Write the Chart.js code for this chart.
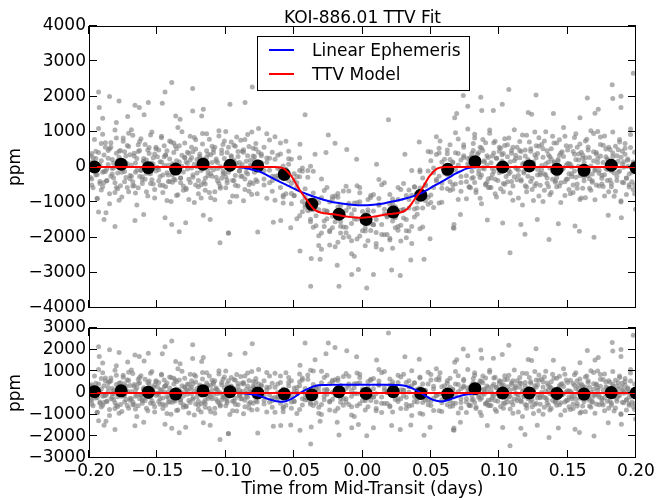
<!DOCTYPE html>
<html><head><meta charset="utf-8">
<script src="https://cdn.jsdelivr.net/npm/chart.js@4/dist/chart.umd.min.js"></script>
<style>
html,body{margin:0;padding:0;background:#fff;}
#wrap{position:relative;width:666px;height:500px;overflow:hidden;background:#fff;}
canvas{position:absolute;left:0;}
</style>
</head><body>
<div id="wrap">
<canvas id="topc" width="666" height="322" style="top:0;width:666px;height:322px"></canvas>
<canvas id="botc" width="666" height="188" style="top:312px;width:666px;height:188px"></canvas>
</div>
<script>
// ---------- text ----------
const chartTitle = 'KOI-886.01 TTV Fit';
const xTitle = 'Time from Mid-Transit (days)';
const yTitle = 'ppm';
const legendLabels = ['Linear Ephemeris', 'TTV Model'];

// ---------- ticks ----------
const xTicks = [-0.20, -0.15, -0.10, -0.05, 0.00, 0.05, 0.10, 0.15, 0.20];
const xTickLabels = ['\u22120.20', '\u22120.15', '\u22120.10', '\u22120.05', '0.00', '0.05', '0.10', '0.15', '0.20'];
const topYTicks = [-4000, -3000, -2000, -1000, 0, 1000, 2000, 3000, 4000];
const topYLabels = ['\u22124000', '\u22123000', '\u22122000', '\u22121000', '0', '1000', '2000', '3000', '4000'];
const botYTicks = [-3000, -2000, -1000, 0, 1000, 2000, 3000];
const botYLabels = ['\u22123000', '\u22122000', '\u22121000', '0', '1000', '2000', '3000'];

// ---------- models (top panel) ----------
const blueX = [-0.095,-0.092,-0.088,-0.084,-0.080,-0.076,-0.072,-0.068,-0.064,-0.060,-0.056,-0.052,-0.048,-0.044,-0.040,-0.036,-0.032,-0.028,-0.024,-0.020,-0.014,-0.008,0,0.008,0.014,0.020,0.024,0.028,0.032,0.036,0.040,0.044,0.048,0.052,0.056,0.060,0.064,0.068,0.072,0.076,0.080,0.085,0.088];
const blueY = [0,0,-15,-45,-80,-115,-190,-270,-350,-430,-500,-580,-655,-720,-780,-835,-885,-935,-975,-1010,-1045,-1070,-1085,-1070,-1045,-995,-965,-930,-885,-840,-790,-725,-635,-545,-460,-370,-280,-190,-115,-45,-15,0,0];
const redX = [-0.2,-0.064,-0.060,-0.058,-0.056,-0.054,-0.052,-0.050,-0.048,-0.046,-0.044,-0.042,-0.040,-0.038,-0.036,-0.034,-0.032,-0.030,-0.025,-0.020,-0.015,-0.010,-0.005,-0.0015,0.002,0.007,0.012,0.017,0.022,0.027,0.029,0.031,0.033,0.035,0.037,0.039,0.041,0.043,0.045,0.047,0.049,0.051,0.053,0.055,0.057,0.061,0.2];
const redY = [0,0,-15,-40,-90,-170,-260,-380,-520,-650,-760,-870,-980,-1090,-1180,-1240,-1275,-1295,-1325,-1350,-1385,-1415,-1433,-1440,-1433,-1415,-1385,-1350,-1325,-1295,-1275,-1240,-1180,-1090,-980,-870,-760,-650,-520,-380,-260,-170,-90,-40,-15,0,0];

// ---------- residual models (bottom panel) ----------
const resBlueX = [-0.095,-0.09,-0.085,-0.08,-0.075,-0.071,-0.067,-0.063,-0.06,-0.057,-0.054,-0.05,-0.046,-0.042,-0.038,-0.034,-0.03,-0.025,-0.015,0,0.015,0.025,0.03,0.034,0.038,0.042,0.046,0.05,0.054,0.058,0.062,0.066,0.07,0.075,0.08,0.085,0.09];
const resBlueY = [0,0,-20,-70,-140,-230,-310,-380,-400,-390,-330,-200,-20,130,250,330,365,375,380,380,380,370,350,280,170,30,-130,-270,-360,-390,-340,-250,-160,-80,-30,0,0];
const resRedX = [-0.2, 0.2];
const resRedY = [0, 0];

// ---------- binned points ----------
const binX = [-0.196,-0.1765,-0.1566,-0.1366,-0.1166,-0.0969,-0.0766,-0.0572,-0.0371,-0.0172,0.0026,0.0225,0.0426,0.0623,0.0823,0.1025,0.1220,0.1422,0.1620,0.1819,0.2000];
const binTop = [0,80,-20,-60,80,50,30,-210,-1060,-1340,-1490,-1280,-800,-65,150,0,30,-65,-95,50,-20];
const binRes = [60,100,40,-50,100,60,0,-50,-80,60,-20,60,-20,-50,200,0,0,-20,-50,20,0];

// ---------- individual measurements, out of transit (same in both panels) ----------
const grayOutX = [
-0.199,-0.198,-0.197,-0.196,-0.195,-0.194,-0.193,-0.192,-0.191,-0.190,
-0.189,-0.188,-0.187,-0.186,-0.185,-0.184,-0.183,-0.182,-0.181,-0.180,
-0.179,-0.178,-0.177,-0.176,-0.175,-0.174,-0.173,-0.172,-0.171,-0.170,
-0.169,-0.168,-0.167,-0.166,-0.165,-0.164,-0.163,-0.162,-0.161,-0.160,
-0.159,-0.158,-0.157,-0.156,-0.155,-0.154,-0.153,-0.152,-0.151,-0.150,
-0.149,-0.148,-0.147,-0.146,-0.145,-0.144,-0.143,-0.142,-0.141,-0.140,
-0.139,-0.138,-0.137,-0.136,-0.135,-0.134,-0.133,-0.132,-0.131,-0.130,
-0.129,-0.128,-0.127,-0.126,-0.125,-0.124,-0.123,-0.122,-0.121,-0.120,
-0.119,-0.118,-0.117,-0.116,-0.115,-0.114,-0.113,-0.112,-0.111,-0.110,
-0.109,-0.108,-0.107,-0.106,-0.105,-0.104,-0.103,-0.102,-0.101,-0.100,
-0.099,-0.098,-0.097,-0.096,-0.095,-0.094,-0.093,-0.092,-0.091,-0.090,
-0.089,-0.088,-0.087,-0.086,-0.085,-0.084,-0.083,-0.082,-0.081,-0.080,
-0.079,-0.078,-0.077,-0.076,
0.076,0.077,0.078,0.079,
0.080,0.081,0.082,0.083,0.084,0.085,0.086,0.087,0.088,0.089,
0.090,0.091,0.092,0.093,0.094,0.095,0.096,0.097,0.098,0.099,
0.100,0.101,0.102,0.103,0.104,0.105,0.106,0.107,0.108,0.109,
0.110,0.111,0.112,0.113,0.114,0.115,0.116,0.117,0.118,0.119,
0.120,0.121,0.122,0.123,0.124,0.125,0.126,0.127,0.128,0.129,
0.130,0.131,0.132,0.133,0.134,0.135,0.136,0.137,0.138,0.139,
0.140,0.141,0.142,0.143,0.144,0.145,0.146,0.147,0.148,0.149,
0.150,0.151,0.152,0.153,0.154,0.155,0.156,0.157,0.158,0.159,
0.160,0.161,0.162,0.163,0.164,0.165,0.166,0.167,0.168,0.169,
0.170,0.171,0.172,0.173,0.174,0.175,0.176,0.177,0.178,0.179,
0.180,0.181,0.182,0.183,0.184,0.185,0.186,0.187,0.188,0.189,
0.190,0.191,0.192,0.193,0.194,0.195,0.196,0.197,0.198,0.199];
const grayOutY1 = [
320,-510,140,780,-230,-890,410,60,-650,930,
-120,560,-380,250,-760,690,-40,-310,1050,-580,
180,-940,470,-150,820,-420,30,610,-700,350,
-260,900,-530,110,-1080,440,720,-90,-360,240,
640,-180,-820,380,-470,990,70,-640,520,-20,
-390,150,870,-720,290,-560,460,-230,740,-980,
90,-340,600,-810,1120,-60,-450,330,-140,680,
-600,420,-920,200,560,-290,840,-510,10,-760,
370,-100,950,-430,-660,270,-250,790,-870,130,
500,-700,230,-40,880,-550,-320,640,-180,1010,
-450,80,-990,710,160,-380,590,-830,300,-110,
760,-260,420,-640,-20,920,-500,190,-780,530,
-150,670,-410,1090,-900,240,40,-590,380,-300,
820,-720,110,-200,560,-1040,470,-60,690,-440,
-330,960,-580,310,-130,730,-850,20,450,-620,
170,-470,800,-270,630,-90,-740,390,-540,1060,
-20,560,-880,260,-360,910,-170,480,-700,120,
710,-410,50,-950,340,600,-230,830,-520,-80,
280,-660,1000,-310,140,-790,520,-120,680,-430,
-560,210,770,-1010,430,-30,870,-350,100,-640,
590,-190,-720,360,940,-480,20,650,-880,250,
-280,740,-110,480,-600,1030,-390,170,-930,410,
130,-540,850,-240,620,-820,290,-70,560,-370,
-470,990,60,-690,320,-150,780,-960,450,-10,
670,-320,230,-570,1080,-420,140,-760];
const grayOutY2 = [
-300,380,-590,40,240,-900,1090,-410,670,-150,
-440,690,-60,470,-1040,560,-200,110,-720,820,
-620,450,20,-850,730,-130,310,-580,960,-330,
1060,-540,390,-740,-90,630,-270,800,-470,170,
120,-700,480,-170,910,-360,260,-880,560,-20,
-80,-520,830,-230,600,340,-950,50,-410,710,
-430,680,-120,520,-790,140,-310,1000,-660,280,
-640,100,-350,870,-30,430,-1010,770,210,-560,
250,-880,650,20,-480,940,360,-720,-190,590,
410,-930,170,-390,1030,-600,480,-110,740,-280,
-370,560,-70,290,-820,620,-240,850,-540,130,
-10,450,-960,780,-150,320,-690,60,990,-470,
300,510,-760,140,-420,1080,-570,230,-320,670,
930,-650,60,410,-890,-230,780,140,-510,320,
-580,1050,-310,-40,690,-760,250,-380,560,-120,
350,-700,610,30,-420,820,-150,470,-940,180,
240,-360,-90,720,440,-1080,110,-530,900,-260,
-20,520,-640,70,990,-470,380,-820,-180,640,
-980,740,-230,460,-560,290,-720,870,150,-390,
680,-140,330,-450,-60,1120,-810,600,-340,90,
-760,10,-510,840,-290,560,200,-920,420,-600,
130,-870,790,-250,270,-660,-430,950,-100,370,
1010,-180,640,-320,-550,880,-40,230,-700,500,
-110,300,-830,590,-380,160,710,-990,80,-450,
530,-780,190,-500,920,-20,-640,420];
const grayOutY3 = [
120,-340,260,-80,450,-210,30,-470,180,-560,
340,-130,-390,70,520,-260,210,-20,-450,390,
-170,280,-530,150,-60,430,-300,90,580,-240,
60,-420,310,-150,240,-590,470,-90,-280,160,
-350,200,-40,550,-190,110,-480,370,-110,290,
480,-270,140,-520,50,330,-160,-410,230,-10,
-220,410,-370,180,-90,600,-310,20,-540,260,
150,-60,390,-440,270,-230,80,510,-170,-380,
300,-500,40,220,-320,460,-140,-20,350,-260,
-80,560,-290,130,-460,10,380,-200,240,-590,
410,-150,-30,320,-380,190,-520,100,440,-110,
-260,70,490,-340,160,-200,580,-430,20,310,
190,-360,-70,420,-250,90,-560,280,-120,470,
-440,230,360,-100,-300,540,-20,180,-480,60,
270,-580,120,-210,400,-350,250,-40,-160,530,
-120,380,-490,20,290,-190,150,-410,560,-280,
330,-50,-240,470,-400,80,-130,310,-570,210,
-10,450,-320,140,-530,260,-70,590,-220,40,
520,-200,90,-460,350,-30,230,-350,120,-150,
-300,170,-540,400,-80,300,-420,50,480,-190,
80,-270,440,-110,210,-600,370,-240,0,340,
-390,260,-140,570,-330,30,-200,430,-70,-510,
240,-90,310,-480,130,-220,510,-380,190,-40,
-560,400,-170,60,-270,490,-110,280,-430,150,
360,-310,20,-200,550,-150,100,-500];
const grayOutliers = [
[-0.193,2130],[-0.1925,1690],[-0.185,2000],[-0.178,1875],[-0.1664,1750],[-0.1632,1690],[-0.1566,1830],[-0.1597,1480],
[-0.1444,2130],[-0.1395,2400],[-0.1464,1810],[-0.1242,2230],[-0.1242,1590],[-0.1164,1640],[-0.1176,1450],[-0.1366,1450],
[-0.1334,1355],[-0.1717,1430],[-0.18,1260],[-0.19,1380],[-0.181,-1690],[-0.1664,-1515],[-0.189,-1490],[-0.193,-1280],
[-0.1876,-1300],[-0.134,-1840],[-0.1395,-1630],[-0.1293,-1580],[-0.1444,-1440],[-0.16,-1345],[-0.1114,-1490],[-0.1164,-1370],
[-0.1042,-2150],[-0.098,-1865],[-0.0766,-1845],[-0.0981,-1880],[-0.0806,2270],[-0.0969,1780],[-0.0859,1830],
[0.198,2660],[0.1826,2330],[0.183,1940],[0.189,2010],[0.189,1690],[0.1644,1960],[0.1269,2040],[0.107,2200],[0.0865,1980],
[0.077,1725],[0.1022,1780],[0.1212,1545],[0.1237,1500],[0.1396,1515],[0.159,1400],[0.1724,1640],[0.17,1525],[0.0957,1600],
[0.0872,1600],[0.1079,-2430],[0.1188,-1910],[0.1364,-2055],[0.1693,-1990],[0.1554,-1675],[0.1586,-1820],[0.1025,-1590],
[0.1158,-1630],[0.1432,-1610],[0.1893,-1440],[0.0913,-1500],[0.1278,-1490],[0.1997,-1200],[0.1797,-1370]];

// ---------- individual measurements, in transit ----------
const grayInX = [
-0.074,-0.072,-0.070,-0.068,-0.066,-0.064,-0.062,-0.060,-0.058,-0.056,
-0.054,-0.052,-0.050,-0.048,-0.046,-0.044,-0.042,-0.040,-0.038,-0.036,
-0.034,-0.032,-0.030,-0.028,-0.026,-0.024,-0.022,-0.020,-0.018,-0.016,
-0.014,-0.012,-0.010,-0.008,-0.006,-0.004,-0.002,0,0.002,0.004,
0.006,0.008,0.010,0.012,0.014,0.016,0.018,0.020,0.022,0.024,
0.026,0.028,0.030,0.032,0.034,0.036,0.038,0.040,0.042,0.044,
0.046,0.048,0.050,0.052,0.054,0.056,0.058,0.060,0.062,0.064,
0.066,0.068,0.070,0.072,0.074];
const grayInTop1 = [
320,-510,135,765,-260,-940,335,-50,-800,730,
-385,220,-805,-270,-1380,-30,-865,-1240,20,-1710,
-1035,-2230,-870,-1530,-585,-1840,-1395,-820,-2135,-1090,
-1703,-546,-1978,-1340,-2532,-1013,-734,-1545,-1814,-1213,
-812,-1630,-2268,-1066,-1913,-450,-1365,-2070,-905,-1440,
-1795,-1230,-470,-2010,-925,-1690,-570,-1160,-85,-1700,
-530,-860,175,-1150,855,-260,-600,220,-215,630,
-630,405,-925,200,560];
const grayInTop2 = [
370,-100,945,-445,-690,220,-325,680,-1020,-70,
235,-1040,-195,-560,260,-1270,-1145,-290,-1210,-120,
-1665,-1210,-2330,-670,-1245,-1800,-835,-2260,-1135,-1550,
-683,-1706,-1028,-2090,-1472,-533,-1954,-1265,-2234,-923,
-1602,-780,-1858,-356,-2343,-1200,-1395,-2020,-1045,-1720,
-585,-2100,-1230,-1490,-655,-2170,-560,-990,-135,-1160,
-950,440,-1005,-30,-395,530,-1000,-90,375,-670,
140,-485,795,-270,630];
const grayInTop3 = [
-20,560,-885,245,-390,860,-245,370,-850,-80,
445,-750,-375,-1470,-280,-120,-1055,-100,-1550,-1210,
-935,-1950,-340,-1690,-1265,-2210,-905,-1550,-755,-1870,
-2003,-1236,-678,-2460,-1022,-1483,-584,-1805,-1354,-2093,
-862,-1640,-2168,-1086,-503,-1920,-1415,-780,-2305,-1170,
-1685,-640,-1450,-810,-1815,-100,-1420,-760,-1755,-310,
-490,-1060,425,-580,355,-1020,140,-180,485,-420,
-500,975,55,-690,320];
const grayInTop4 = [
120,-340,255,-95,420,-260,-45,-580,30,-760,
75,-470,-815,-450,-100,-980,-615,-950,-1480,-740,
-1385,-1010,-1870,-1230,-1465,-990,-1725,-1340,-855,-1680,
-1383,-1866,-1138,-1600,-1212,-2043,-984,-1545,-1734,-1293,
-1802,-1250,-1488,-896,-1633,-1330,-1915,-1060,-1535,-1130,
-925,-1650,-1200,-1810,-1165,-800,-1190,-1340,-595,-730,
-840,-110,-795,-160,-355,400,-460,-90,-615,210,
120,-75,385,-440,270];
const grayInRes1 = [
320,-510,140,780,-230,-890,410,60,-650,930,
-120,560,-380,250,-760,690,-40,-310,1050,-580,
180,-940,470,-150,820,-420,30,610,-700,350,
-260,900,-530,110,-1080,440,720,-90,-360,240,
640,-180,-820,380,-470,990,70,-640,520,-20,
-390,150,870,-720,290,-560,460,-230,740,-980,
90,-340,600,-810,1120,-60,-450,330,-140,680,
-600,420,-920,200,560];
const grayInRes2 = [
370,-100,950,-430,-660,270,-250,790,-870,130,
500,-700,230,-40,880,-550,-320,640,-180,1010,
-450,80,-990,710,160,-380,590,-830,300,-110,
760,-260,420,-640,-20,920,-500,190,-780,530,
-150,670,-410,1090,-900,240,40,-590,380,-300,
820,-720,110,-200,560,-1040,470,-60,690,-440,
-330,960,-580,310,-130,730,-850,20,450,-620,
170,-470,800,-270,630];
const grayInRes3 = [
-20,560,-880,260,-360,910,-170,480,-700,120,
710,-410,50,-950,340,600,-230,830,-520,-80,
280,-660,1000,-310,140,-790,520,-120,680,-430,
-560,210,770,-1010,430,-30,870,-350,100,-640,
590,-190,-720,360,940,-480,20,650,-880,250,
-280,740,-110,480,-600,1030,-390,170,-930,410,
130,-540,850,-240,620,-820,290,-70,560,-370,
-470,990,60,-690,320];
const grayInRes4 = [
120,-340,260,-80,450,-210,30,-470,180,-560,
340,-130,-390,70,520,-260,210,-20,-450,390,
-170,280,-530,150,-60,430,-300,90,580,-240,
60,-420,310,-150,240,-590,470,-90,-280,160,
-350,200,-40,550,-190,110,-480,370,-110,290,
480,-270,140,-520,50,330,-160,-410,230,-10,
-220,410,-370,180,-90,600,-310,20,-540,260,
150,-60,390,-440,270];
// [time, flux (top), residual (bottom)]
const grayInOutliers = [
[-0.0379,-3380,-2350],[-0.0172,-3380,-1943],[0.0031,-3430,-1976],[-0.0079,-3050,-1600],[0.008,-3050,-1600],
[-0.003,-2905,-1452],[0.0213,-2925,-1497],[-0.0375,-2595,-1565],[-0.031,-2620,-1305],[-0.0185,-2790,-1355],
[0.0353,-2640,-1480],[0.045,-2620,-1950],[-0.0457,-2385,-1715],[-0.0525,-1720,-1480],[-0.0598,-1515,-1500],
[0.0494,-2035,-1580],[0.0664,-1720,-1695],[0.0716,-1345,-1345],[-0.0201,675,2105],[-0.0115,500,1947],
[-0.0267,410,1810],[-0.0043,220,1673],[0.0103,75,1523],[0.031,360,1675],[0.0415,710,1560],[0.0567,740,930],
[-0.0347,360,1540],[-0.0457,645,1280],[0.019,1340,2770],[-0.025,905,2310],[-0.042,1485,2310],[-0.0652,-1570,-1540],
[0.0276,-3075,-1690],[0.0674,1400,1420],[0.0689,1515,1530],[0.0669,-1740,-1720],[0.0669,-1630,-1610],[0.0737,2030,2030]];

// ---------- build ----------
const pts = (xs, ys) => xs.map((x, i) => ({x: x, y: ys[i]}));
const grayTop = [].concat(
  pts(grayOutX, grayOutY1), pts(grayOutX, grayOutY2), pts(grayOutX, grayOutY3),
  grayOutliers.map(p => ({x: p[0], y: p[1]})),
  pts(grayInX, grayInTop1), pts(grayInX, grayInTop2), pts(grayInX, grayInTop3), pts(grayInX, grayInTop4),
  grayInOutliers.map(p => ({x: p[0], y: p[1]})));
const grayBot = [].concat(
  pts(grayOutX, grayOutY1), pts(grayOutX, grayOutY2), pts(grayOutX, grayOutY3),
  grayOutliers.map(p => ({x: p[0], y: p[1]})),
  pts(grayInX, grayInRes1), pts(grayInX, grayInRes2), pts(grayInX, grayInRes3), pts(grayInX, grayInRes4),
  grayInOutliers.map(p => ({x: p[0], y: p[2]})));

Chart.defaults.font.family = "'DejaVu Sans', sans-serif";
Chart.defaults.font.size = 17;
Chart.defaults.color = '#000';

const FONT = "17px 'DejaVu Sans', sans-serif";
const BLUE = '#0000ff', RED = '#ff0000';
const GRAY = 'rgba(128,128,128,0.62)';
const GRAY_R = 2.5;

function frameTicks(yTickVals) {
  return {
    id: 'frameTicks',
    afterDatasetsDraw(chart) {
      const {ctx, chartArea: a} = chart;
      const x = chart.scales.x, y = chart.scales.y;
      ctx.save();
      ctx.strokeStyle = '#000';
      ctx.lineWidth = 1;
      ctx.beginPath();
      xTicks.forEach(v => {
        const px = Math.round(x.getPixelForValue(v)) - 0.5;
        ctx.moveTo(px, a.top); ctx.lineTo(px, a.top + 8);
        ctx.moveTo(px, a.bottom); ctx.lineTo(px, a.bottom - 8);
      });
      yTickVals.forEach(v => {
        const py = Math.round(y.getPixelForValue(v)) - 0.5;
        ctx.moveTo(a.left, py); ctx.lineTo(a.left + 8, py);
        ctx.moveTo(a.right, py); ctx.lineTo(a.right - 8, py);
      });
      ctx.stroke();
      ctx.strokeRect(a.left + 0.5, a.top + 0.5, a.right - a.left - 1, a.bottom - a.top - 1);
      ctx.restore();
    }
  };
}

const titleAndLegend = {
  id: 'titleAndLegend',
  afterDraw(chart) {
    const {ctx, chartArea: a} = chart;
    const cx = (a.left + a.right) / 2;
    ctx.save();
    ctx.font = FONT;
    ctx.fillStyle = '#000';
    ctx.textAlign = 'center';
    ctx.textBaseline = 'alphabetic';
    ctx.fillText(chartTitle, cx, a.top - 3);
    const w = 212, h = 54;
    const lx = Math.round(cx - w / 2), ly = a.top + 10;
    ctx.fillStyle = '#fff';
    ctx.fillRect(lx, ly, w, h);
    ctx.strokeStyle = '#000';
    ctx.lineWidth = 1;
    ctx.strokeRect(lx + 0.5, ly + 0.5, w, h);
    const colors = {};
    chart.data.datasets.forEach(d => { if (d.label) colors[d.label] = d.borderColor; });
    legendLabels.forEach((lab, i) => {
      const yy = ly + 14 + i * 24;
      ctx.strokeStyle = colors[lab];
      ctx.lineWidth = 2;
      ctx.beginPath();
      ctx.moveTo(lx + 12, yy); ctx.lineTo(lx + 37, yy);
      ctx.stroke();
      ctx.fillStyle = '#000';
      ctx.textAlign = 'left';
      ctx.fillText(lab, lx + 55, yy + 6);
    });
    ctx.restore();
  }
};

function yScale(min, max, vals, labels) {
  return {
    type: 'linear', min: min, max: max,
    afterBuildTicks: s => { s.ticks = vals.map(v => ({value: v})); },
    afterFit: s => { s.width = 89; s.paddingTop = 0; s.paddingBottom = 0; },
    grid: {display: false, drawTicks: false},
    border: {display: false},
    ticks: {padding: 3, color: '#000', font: {size: 17}, autoSkip: false, callback: (v, i) => labels[i]},
    title: {display: true, text: yTitle, color: '#000', font: {size: 17}, padding: {top: 5, bottom: 0}}
  };
}

function lineDs(label, data, color, order) {
  return {type: 'line', label: label, data: data, borderColor: color, backgroundColor: color,
    borderWidth: 2, pointRadius: 0, fill: false, cubicInterpolationMode: 'monotone', order: order, clip: 0};
}
function dotDs(data, r, color, order) {
  return {data: data, pointRadius: r, pointHoverRadius: r, backgroundColor: color, borderWidth: 0, order: order, clip: 0};
}

new Chart(document.getElementById('topc'), {
  type: 'scatter',
  data: {datasets: [
    lineDs('TTV Model', pts(redX, redY), RED, 0),
    lineDs('Linear Ephemeris', pts(blueX, blueY), BLUE, 1),
    dotDs(pts(binX, binTop), 6.5, '#000', 2),
    dotDs(grayTop, GRAY_R, GRAY, 3)
  ]},
  options: {
    responsive: false, animation: false, devicePixelRatio: 1, events: [],
    layout: {padding: {top: 26, right: 30, bottom: 14, left: 0}, autoPadding: false},
    plugins: {legend: {display: false}, tooltip: {enabled: false}, title: {display: false}},
    scales: {
      x: {type: 'linear', display: false, min: -0.2, max: 0.2},
      y: yScale(-4000, 4000, topYTicks, topYLabels)
    }
  },
  plugins: [frameTicks(topYTicks), titleAndLegend]
});

new Chart(document.getElementById('botc'), {
  type: 'scatter',
  data: {datasets: [
    lineDs('TTV Model residual', pts(resRedX, resRedY), RED, 0),
    lineDs('Linear Ephemeris residual', pts(resBlueX, resBlueY), BLUE, 1),
    dotDs(pts(binX, binRes), 6.5, '#000', 2),
    dotDs(grayBot, GRAY_R, GRAY, 3)
  ]},
  options: {
    responsive: false, animation: false, devicePixelRatio: 1, events: [],
    layout: {padding: {top: 16, right: 30, bottom: 0, left: 0}, autoPadding: false},
    plugins: {legend: {display: false}, tooltip: {enabled: false}, title: {display: false}},
    scales: {
      x: {
        type: 'linear', min: -0.2, max: 0.2,
        afterBuildTicks: s => { s.ticks = xTicks.map(v => ({value: v})); },
        afterFit: s => { s.height = 42; s.paddingLeft = 0; s.paddingRight = 0; },
        grid: {display: false, drawTicks: false},
        border: {display: false},
        ticks: {padding: 3, color: '#000', font: {size: 17}, maxRotation: 0, autoSkip: false, callback: (v, i) => xTickLabels[i]},
        title: {display: true, text: xTitle, color: '#000', font: {size: 17}, padding: {top: 0, bottom: 0}}
      },
      y: yScale(-3000, 3000, botYTicks, botYLabels)
    }
  },
  plugins: [frameTicks(botYTicks)]
});
</script>
</body></html>
